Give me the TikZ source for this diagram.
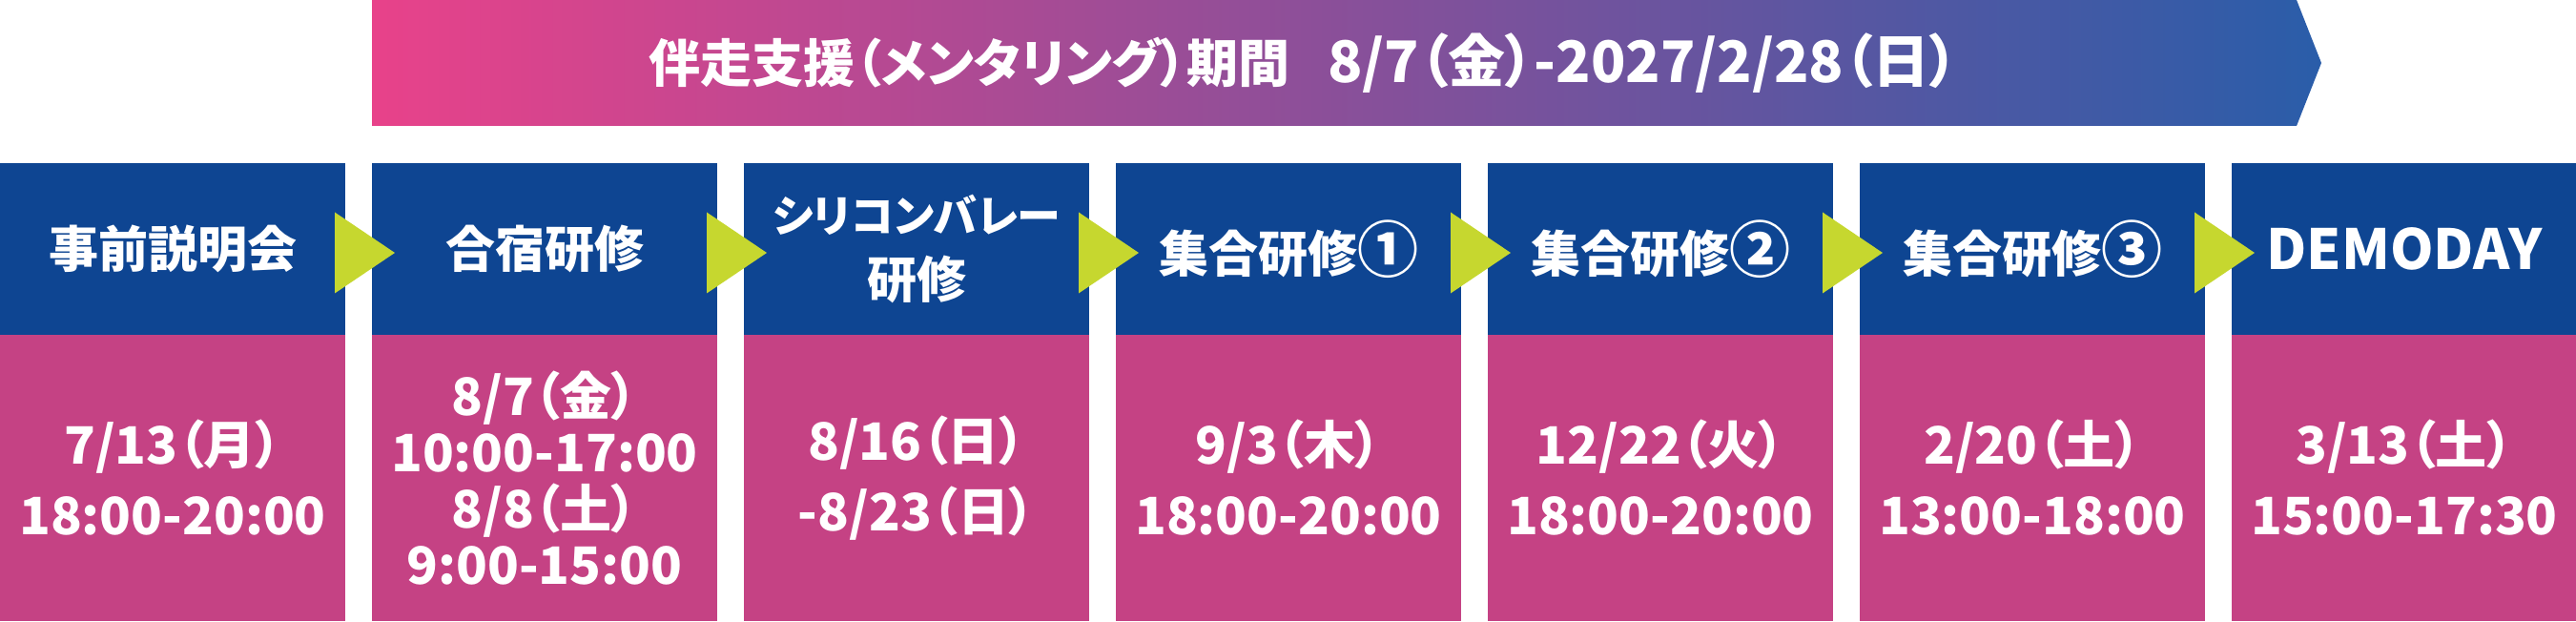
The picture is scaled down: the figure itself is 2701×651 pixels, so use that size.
\documentclass[tikz,border=0pt]{standalone}
\usepackage{fontspec}
\setmainfont{Noto Sans CJK JP}[RawFeature=+palt]
\usetikzlibrary{positioning}
\definecolor{stepblue}{HTML}{0E4592}
\definecolor{datepink}{HTML}{C54284}
\definecolor{arrowgreen}{HTML}{C6D72F}
\definecolor{bandpink}{HTML}{E8428A}
\definecolor{bandpurple}{HTML}{8C4D9B}
\definecolor{bandblue}{HTML}{2A5DA9}
\newcommand{\circnum}[1]{{\fontsize{64}{69}\selectfont #1}}

\begin{document}
\begin{tikzpicture}[
    x=1pt, y=1pt,
    node distance=0pt and 28pt,
    headbox/.style={fill=stepblue,text=white,minimum width=362pt,minimum height=180pt,inner sep=0pt,outer sep=0pt,align=center,font=\bfseries\fontsize{52}{69}\selectfont},
    datebox/.style={fill=datepink,text=white,minimum width=362pt,minimum height=300pt,inner sep=0pt,outer sep=0pt,align=center,font=\bfseries\fontsize{54}{74}\selectfont},
    nextarrow/.style={fill=arrowgreen},
    band/.style={left color=bandpink,middle color=bandpurple,right color=bandblue},
    bandtext/.style={text=white,inner sep=0pt,font=\bfseries\fontsize{54}{60}\selectfont}
    ]
    \useasboundingbox (0,0) rectangle (2701,651);

    \node[headbox] (h1) at (181,390) {事前説明会};
    \node[headbox, right=of h1] (h2) {合宿研修};
    \node[headbox, right=of h2] (h3) {{\fontsize{46}{69}\selectfont シリコンバレー}\\研修};
    \node[headbox, right=of h3] (h4) {集合研修\circnum{①}};
    \node[headbox, right=of h4] (h5) {集合研修\circnum{②}};
    \node[headbox, right=of h5] (h6) {集合研修\circnum{③}};
    \node[headbox, right=of h6] (h7) {{\fontsize{58}{69}\selectfont DEMODAY}};

    \node[datebox, below=of h1] (d1) {7/13（月）\\18:00-20:00};
    \node[datebox, below=of h2, font=\bfseries\fontsize{54}{59}\selectfont] (d2) {8/7（金）\\10:00-17:00\\8/8（土）\\9:00-15:00};
    \node[datebox, below=of h3] (d3) {8/16（日）\\-8/23（日）};
    \node[datebox, below=of h4] (d4) {9/3（木）\\18:00-20:00};
    \node[datebox, below=of h5] (d5) {12/22（火）\\18:00-20:00};
    \node[datebox, below=of h6] (d6) {2/20（土）\\13:00-18:00};
    \node[datebox, below=of h7] (d7) {3/13（土）\\15:00-17:30};

    % arrows between the steps
    \foreach \a in {1,...,6}
      \fill[nextarrow] ([xshift=-11pt,yshift=38.5pt]h\a.east) -- ([xshift=52pt,yshift=-4pt]h\a.east) -- ([xshift=-11pt,yshift=-46.5pt]h\a.east) -- cycle;

    % support period band
    \coordinate (bandstart) at ([yshift=39pt]h2.north west);
    \shade[band] (bandstart) -- ++(0,132) -- ++(2018,0) -- ++(26,-66) -- ++(-26,-66) -- cycle;
    \node[bandtext] (period) at (1367,585) {伴走支援（メンタリング）期間\hspace{40pt}{\fontsize{60}{60}\selectfont 8/7（金）-2027/2/28（日）}};

\end{tikzpicture}
\end{document}
